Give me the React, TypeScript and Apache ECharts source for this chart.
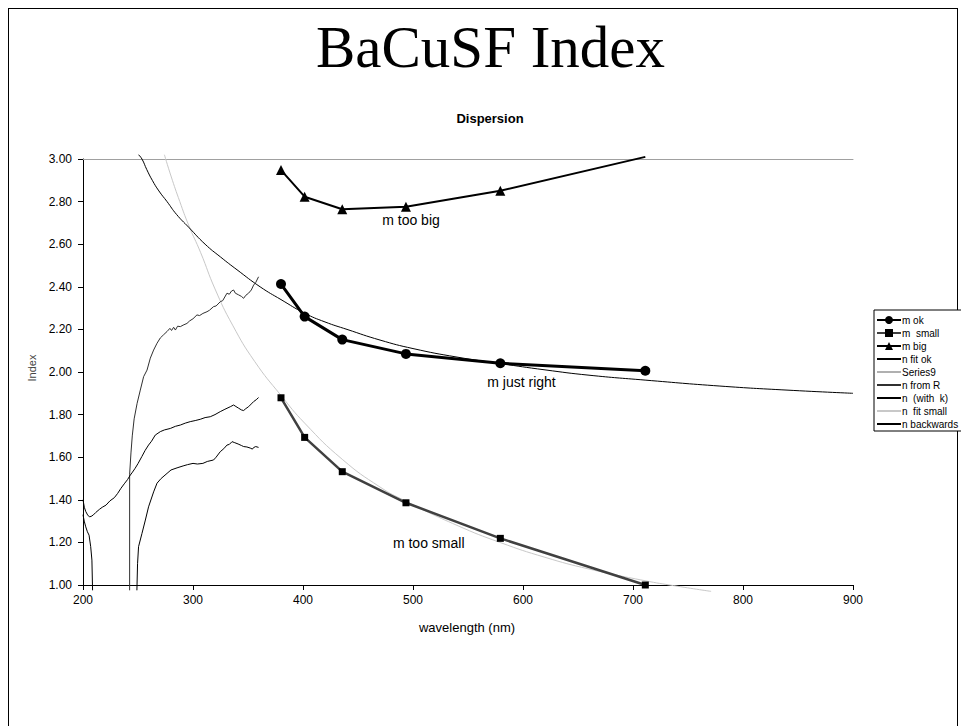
import React, { useEffect, useRef } from "react";
import * as echarts from "echarts";

const FONT = '"Liberation Sans", Arial, sans-serif';
const SERIF = '"Liberation Serif", "Times New Roman", serif';

// wavelengths (nm) of the measured points
const wavelengths = [380, 401.5, 435.7, 493.6, 579.4, 711.2];
const mOk = [2.413, 2.26, 2.152, 2.085, 2.041, 2.006];
const mSmall = [1.879, 1.693, 1.532, 1.386, 1.219, 1.0];
const mBig = [2.948, 2.823, 2.764, 2.776, 2.851, 3.01];

// fitted curves [nm, index]
const nFitOk: [number, number][] = [
  [250.5, 3.02], [253.6, 3.0], [258, 2.95], [263, 2.9], [269, 2.85], [276.4, 2.8], [285, 2.74],
  [296, 2.68], [311, 2.6], [325, 2.54], [340, 2.48], [361, 2.4], [380, 2.34], [401.5, 2.276],
  [420, 2.235], [440, 2.2], [470, 2.15], [500, 2.11], [540, 2.07], [579, 2.04], [620, 2.01],
  [660, 1.985], [711, 1.962], [779, 1.934], [840, 1.915], [900, 1.9],
];
const nFitSmall: [number, number][] = [
  [274, 3.02], [280, 2.92], [288, 2.8], [296, 2.69], [307, 2.56], [320, 2.39], [336, 2.22],
  [356, 2.05], [380, 1.89], [401.5, 1.76], [435.7, 1.59], [470, 1.46], [493, 1.395], [540, 1.28],
  [579, 1.2], [620, 1.13], [660, 1.075], [711, 1.02], [737, 0.997], [771, 0.97],
];
const series9: [number, number][] = [];

// measured (noisy) curves
const nFromR: [number, number][] = [
  [242.4, 0.975], [242.4, 1.52], [243.6, 1.62], [244.8, 1.7], [246.5, 1.78], [249.2, 1.853],
  [252.1, 1.915], [255.1, 1.978], [258.2, 2.009], [261.2, 2.065], [264.2, 2.103], [267.3, 2.135],
  [270.3, 2.16], [273.3, 2.175], [276.4, 2.19], [279, 2.205], [280.5, 2.195], [282.4, 2.21],
  [284, 2.197], [286, 2.215], [288.5, 2.213], [291, 2.22], [294.5, 2.228], [297, 2.24], [300, 2.25],
  [303.6, 2.268], [306, 2.265], [309, 2.275], [312.7, 2.283], [315, 2.29], [318.7, 2.307],
  [321, 2.31], [324.8, 2.33], [327, 2.335], [330.9, 2.37], [333, 2.365], [335, 2.38], [336.9, 2.385],
  [338.5, 2.37], [341.5, 2.362], [344, 2.355], [346, 2.346], [348, 2.36], [350.5, 2.37],
  [353, 2.385], [355.1, 2.408], [357, 2.42], [359.6, 2.447],
];
const nWithK: [number, number][] = [
  [200, 1.4], [201.2, 1.365], [202.5, 1.345], [204.2, 1.329], [205.8, 1.32], [207.4, 1.322],
  [209.4, 1.329], [211.5, 1.34], [214.9, 1.355], [217.5, 1.365], [220.9, 1.375], [224.5, 1.395],
  [228.5, 1.41], [231.5, 1.43], [234.5, 1.454], [237.5, 1.475], [240.5, 1.495], [243, 1.516],
  [245, 1.53], [247.4, 1.548], [250, 1.57], [253.5, 1.603], [256.5, 1.632], [259.6, 1.657],
  [262.3, 1.675], [265.7, 1.704], [270.3, 1.72], [274, 1.728], [279.4, 1.735], [284, 1.745],
  [288.5, 1.751], [293, 1.76], [297.5, 1.767], [302, 1.772], [306.6, 1.778], [311, 1.786],
  [315.7, 1.79], [320, 1.8], [324.8, 1.814], [329, 1.825], [333.9, 1.837], [336.9, 1.845],
  [339, 1.838], [341.5, 1.83], [344, 1.822], [346, 1.819], [348, 1.828], [350.5, 1.837],
  [353, 1.85], [355.1, 1.861], [357.5, 1.87], [359.6, 1.88],
];
const nBackwards: (number | string)[][] = [
  [200, 1.33], [201.1, 1.3], [202.5, 1.273], [204, 1.25], [205.5, 1.234], [207, 1.18],
  [208.1, 1.117], [208.7, 0.975], [229, "-"], [249, 0.975], [249.6, 1.1], [250.5, 1.18],
  [253.6, 1.242], [256.7, 1.305], [259.6, 1.367], [264.2, 1.437], [267.3, 1.478], [271, 1.5],
  [276.4, 1.524], [280, 1.54], [285.5, 1.55], [291, 1.559], [295, 1.565], [300, 1.571],
  [304, 1.568], [309, 1.571], [313, 1.58], [318.7, 1.587], [321, 1.6], [324.8, 1.626],
  [328, 1.64], [330.9, 1.657], [333, 1.66], [335.5, 1.673], [338, 1.668], [341, 1.662],
  [344, 1.655], [346, 1.65], [349, 1.648], [352, 1.643], [354, 1.638], [355, 1.645],
  [357, 1.65], [359.6, 1.646],
];

const legendNames = ["m ok", "m  small", "m big", "n fit ok", "Series9", "n from R", "n  (with  k)", "n  fit small", "n backwards"];
const markerSeries = ["m ok", "m  small", "m big"];
const xTicks = { min: 200, max: 900, interval: 100 };
const yTicks = { min: 1, max: 3, interval: 0.2 };

const pair = (xs: number[], ys: number[]) => xs.map((x, i) => [x, ys[i]]);

export default function App() {
  const ref = useRef<HTMLDivElement>(null);
  useEffect(() => {
    if (!ref.current) return;
    const chart = echarts.init(ref.current, null, { renderer: "svg" });
    const thin = (name: string, data: any[], color: string, extra: any = {}) => ({
      name, type: "line", data, showSymbol: false, symbol: "none", clip: false,
      lineStyle: { color, width: 1 }, itemStyle: { color }, connectNulls: false, ...extra,
    });
    const mBigData = pair(wavelengths, mBig).map((d, i) =>
      i === wavelengths.length - 1 ? { value: d, symbol: "none" } : d);
    chart.setOption({
      animation: false,
      grid: { left: 83, top: 159, width: 770, height: 426, containLabel: false },
      xAxis: [
        {
          type: "value", ...xTicks,
          axisLine: { lineStyle: { color: "#000", width: 1 } },
          axisTick: { length: 5, lineStyle: { color: "#000" } },
          axisLabel: { fontSize: 12, color: "#000", margin: 9, fontFamily: FONT },
          splitLine: { show: false },
        },
        {
          type: "value", position: "top", ...xTicks,
          axisLine: { show: true, lineStyle: { color: "#a0a0a0", width: 1 } },
          axisTick: { show: false }, axisLabel: { show: false }, splitLine: { show: false },
        },
      ],
      yAxis: {
        type: "value", ...yTicks,
        axisLine: { show: true, lineStyle: { color: "#000", width: 1 } },
        axisTick: { show: true, length: 5, lineStyle: { color: "#000" } },
        axisLabel: { fontSize: 12, color: "#000", margin: 11, fontFamily: FONT, formatter: (v: number) => v.toFixed(2) },
        splitLine: { show: false },
      },
      legend: {
        orient: "vertical", left: 874, top: 310,
        itemWidth: 24, itemHeight: 10, itemGap: 3,
        padding: [5, 4, 2, 2],
        borderColor: "#000", borderWidth: 1, backgroundColor: "#fff",
        textStyle: { fontSize: 10, fontFamily: FONT, color: "#000", lineHeight: 10, padding: [0, 0, 0, -4] },
        data: legendNames.map((name) =>
          markerSeries.includes(name) ? { name } : { name, itemStyle: { opacity: 0 } }),
      },
      series: [
        thin(legendNames[7], nFitSmall, "#c8c8c8", { smooth: true }),
        thin(legendNames[4], series9, "#b0b0b0"),
        thin(legendNames[3], nFitOk, "#000", { smooth: true }),
        thin(legendNames[5], nFromR, "#303030"),
        thin(legendNames[6], nWithK, "#000"),
        thin(legendNames[8], nBackwards, "#000"),
        {
          name: legendNames[1], type: "line", data: pair(wavelengths, mSmall),
          symbol: "rect", symbolSize: 7, lineStyle: { color: "#404040", width: 2.5 },
          itemStyle: { color: "#000" },
        },
        {
          name: legendNames[2], type: "line", data: mBigData, clip: false,
          symbol: "triangle", symbolSize: 10, lineStyle: { color: "#000", width: 2 },
          itemStyle: { color: "#000" },
        },
        {
          name: legendNames[0], type: "line", data: pair(wavelengths, mOk),
          symbol: "circle", symbolSize: 10, lineStyle: { color: "#000", width: 3 },
          itemStyle: { color: "#000" },
        },
      ],
      graphic: [
        { type: "text", x: 490.5, y: 47, style: { text: "BaCuSF Index", font: `59px ${SERIF}`, textAlign: "center", textVerticalAlign: "middle", fill: "#000" } },
        { type: "text", x: 490, y: 118, style: { text: "Dispersion", font: `bold 13px ${FONT}`, textAlign: "center", textVerticalAlign: "middle", fill: "#000" } },
        { type: "text", x: 467, y: 627, style: { text: "wavelength (nm)", font: `13px ${FONT}`, textAlign: "center", textVerticalAlign: "middle", fill: "#000" } },
        { type: "text", x: 32, y: 368, rotation: Math.PI / 2, style: { text: "Index", font: `11px ${FONT}`, textAlign: "center", textVerticalAlign: "middle", fill: "#444" } },
        { type: "text", x: 411, y: 220, style: { text: "m too big", font: `14px ${FONT}`, textAlign: "center", textVerticalAlign: "middle", fill: "#000" } },
        { type: "text", x: 521.5, y: 381.7, style: { text: "m just right", font: `14px ${FONT}`, textAlign: "center", textVerticalAlign: "middle", fill: "#000" } },
        { type: "text", x: 428.7, y: 542.7, style: { text: "m too small", font: `14px ${FONT}`, textAlign: "center", textVerticalAlign: "middle", fill: "#000" } },
      ],
    });
    return () => chart.dispose();
  }, []);
  return (
    <div style={{ position: "fixed", left: 0, top: 0, width: 961, height: 726, overflow: "hidden", background: "#fff" }}>
      <div style={{ position: "absolute", left: 8, top: 8, width: 950, height: 760, border: "1px solid #000", boxSizing: "border-box" }} />
      <div ref={ref} style={{ position: "absolute", left: 0, top: 0, width: 961, height: 726 }} />
    </div>
  );
}
